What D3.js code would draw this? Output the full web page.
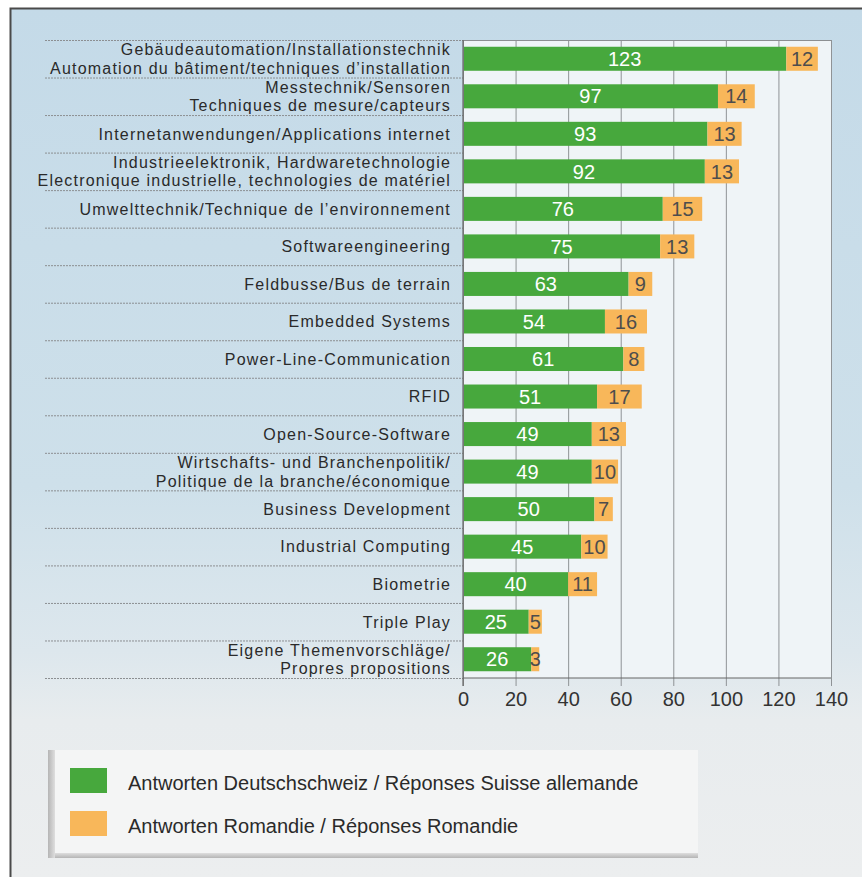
<!DOCTYPE html>
<html><head><meta charset="utf-8">
<script src="https://cdn.jsdelivr.net/npm/d3@7/dist/d3.min.js"></script>
<style>html,body{margin:0;padding:0;background:#fff;}svg{display:block;}</style>
</head><body>
<script>
const categories = [
  ["Gebäudeautomation/Installationstechnik","Automation du bâtiment/techniques d’installation"],
  ["Messtechnik/Sensoren","Techniques de mesure/capteurs"],
  ["Internetanwendungen/Applications internet"],
  ["Industrieelektronik, Hardwaretechnologie","Electronique industrielle, technologies de matériel"],
  ["Umwelttechnik/Technique de l’environnement"],
  ["Softwareengineering"],
  ["Feldbusse/Bus de terrain"],
  ["Embedded Systems"],
  ["Power-Line-Communication"],
  ["RFID"],
  ["Open-Source-Software"],
  ["Wirtschafts- und Branchenpolitik/","Politique de la branche/économique"],
  ["Business Development"],
  ["Industrial Computing"],
  ["Biometrie"],
  ["Triple Play"],
  ["Eigene Themenvorschläge/","Propres propositions"]
];
const deutschschweiz = [123,97,93,92,76,75,63,54,61,51,49,49,50,45,40,25,26];
const romandie = [12,14,13,13,15,13,9,16,8,17,13,10,7,10,11,5,3];
const xTicks = [0,20,40,60,80,100,120,140];
const seriesNames = ["Antworten Deutschschweiz / Réponses Suisse allemande","Antworten Romandie / Réponses Romandie"];
const colors = ["#47a83d","#f8b75a"];

const W = 862, H = 877;
const svg = d3.select("body").append("svg").attr("width",W).attr("height",H);
const font = "'Liberation Sans', Arial, Helvetica, sans-serif";

const defs = svg.append("defs");
const g1 = defs.append("linearGradient").attr("id","bg").attr("x1",0).attr("y1",0).attr("x2",0).attr("y2",1);
[[0,"#c4dae8"],[0.55,"#cee0ea"],[0.74,"#dde7ed"],[0.82,"#e8ecee"],[1,"#eceeef"]].forEach(s=>g1.append("stop").attr("offset",s[0]).attr("stop-color",s[1]));
const sh = defs.append("linearGradient").attr("id","sh").attr("x1",0).attr("y1",0).attr("x2",1).attr("y2",0);
sh.append("stop").attr("offset",0).attr("stop-color","#b5b5b5");
sh.append("stop").attr("offset",1).attr("stop-color","#dedede");
const shb = defs.append("linearGradient").attr("id","shb").attr("x1",0).attr("y1",0).attr("x2",0).attr("y2",1);
shb.append("stop").attr("offset",0).attr("stop-color","#dedede");
shb.append("stop").attr("offset",1).attr("stop-color","#b5b5b5");

// page background
svg.append("rect").attr("x",10).attr("y",8).attr("width",W-10).attr("height",H-8).attr("fill","url(#bg)");
svg.append("path").attr("d",`M10.5,${H} V8.5 H${W}`).attr("fill","none").attr("stroke","#4a4a4a").attr("stroke-width",2);

const x = d3.scaleLinear().domain([0,140]).range([463,831]);
const y = d3.scaleBand().domain(d3.range(categories.length)).range([40,678]).paddingInner(0.36).paddingOuter(0.18);
const step = y.step();

// plot area
svg.append("rect").attr("x",x(0)).attr("y",40).attr("width",x(140)-x(0)).attr("height",638).attr("fill","#eff4f7");

// row separators
const seps = d3.range(categories.length+1).map(i=>40+i*step);
svg.append("g").selectAll("line").data(seps).join("line")
  .attr("x1",45).attr("x2",x(0)).attr("y1",d=>d+0.5).attr("y2",d=>d+0.5)
  .attr("stroke","#8c8f92").attr("stroke-width",1).attr("stroke-dasharray","2,1");

// grid + axis
const axis = svg.append("g").attr("transform","translate(0,678)")
  .call(d3.axisBottom(x).tickValues(xTicks).tickSize(8).tickPadding(6));
axis.select(".domain").remove();
axis.selectAll(".tick line").attr("stroke","#8f9396").attr("y1",-638);
axis.selectAll(".tick text").attr("font-family",font).attr("font-size",20).attr("fill","#333").attr("dy","0.71em");
svg.append("line").attr("x1",x(0)).attr("x2",x(140)).attr("y1",678).attr("y2",678).attr("stroke","#666").attr("stroke-width",1.2);
svg.append("line").attr("x1",x(0)).attr("x2",x(140)).attr("y1",40.5).attr("y2",40.5).attr("stroke","#8c8f92");
svg.append("line").attr("x1",x(0)).attr("x2",x(0)).attr("y1",40).attr("y2",686).attr("stroke","#666").attr("stroke-width",1.2);

// bars
const rows = categories.map((c,i)=>({i, c, a:deutschschweiz[i], b:romandie[i]}));
const bars = svg.append("g");
bars.selectAll("rect.a").data(rows).join("rect").attr("class","a")
  .attr("x",x(0)+1).attr("y",d=>y(d.i)).attr("height",y.bandwidth())
  .attr("width",d=>x(d.a)-x(0)-1).attr("fill",colors[0]);
bars.selectAll("rect.b").data(rows).join("rect").attr("class","b")
  .attr("x",d=>x(d.a)).attr("y",d=>y(d.i)).attr("height",y.bandwidth())
  .attr("width",d=>x(d.a+d.b)-x(d.a)).attr("fill",colors[1]);
bars.selectAll("text.a").data(rows).join("text").attr("class","a")
  .attr("x",d=>(x(0)+x(d.a))/2).attr("y",d=>y(d.i)+y.bandwidth()/2).attr("dy","0.36em")
  .attr("text-anchor","middle").attr("font-family",font).attr("font-size",20).attr("fill","#fff")
  .text(d=>d.a);
bars.selectAll("text.b").data(rows).join("text").attr("class","b")
  .attr("x",d=>(x(d.a)+x(d.a+d.b))/2).attr("y",d=>y(d.i)+y.bandwidth()/2).attr("dy","0.36em")
  .attr("text-anchor","middle").attr("font-family",font).attr("font-size",20).attr("fill","#4d4d4d")
  .text(d=>d.b);

// category labels
const LH = 18.6;
const lab = svg.append("g").selectAll("text").data(rows).join("text")
  .attr("x",451).attr("text-anchor","end").attr("font-family",font).attr("font-size",16)
  .attr("letter-spacing",1.2).attr("fill","#2a2a2a")
  .attr("y",d=>y(d.i)+y.bandwidth()/2);
lab.each(function(d){
  const t = d3.select(this);
  const n = d.c.length;
  d.c.forEach((line,k)=>{
    t.append("tspan").attr("x",451).attr("dy", k===0 ? ((-(n-1)*LH/2)+5.8) : LH).text(line);
  });
});

// legend
const lg = svg.append("g");
lg.append("rect").attr("x",48).attr("y",750).attr("width",650).attr("height",108).attr("fill","#f4f5f5");
lg.append("rect").attr("x",48).attr("y",750).attr("width",7).attr("height",108).attr("fill","url(#sh)");
lg.append("rect").attr("x",55).attr("y",853).attr("width",643).attr("height",5).attr("fill","url(#shb)");
const items = seriesNames.map((n,i)=>({n,i}));
lg.selectAll("rect.sw").data(items).join("rect").attr("class","sw")
  .attr("x",70).attr("y",d=>768+d.i*43).attr("width",37).attr("height",25).attr("fill",(d)=>colors[d.i]);
lg.selectAll("text").data(items).join("text")
  .attr("x",128).attr("y",d=>790+d.i*43).attr("font-family",font).attr("font-size",20)
  .attr("fill","#2a2a2a").text(d=>d.n);
</script>
</body></html>
